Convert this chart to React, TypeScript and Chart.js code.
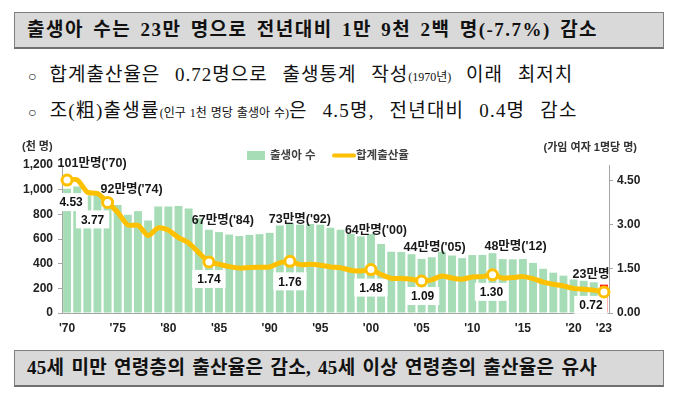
import React, { useEffect, useRef } from "react";
import { Chart, registerables } from "chart.js";

Chart.register(...registerables);

// ---------- data ----------
const years = [
  1970, 1971, 1972, 1973, 1974, 1975, 1976, 1977, 1978, 1979,
  1980, 1981, 1982, 1983, 1984, 1985, 1986, 1987, 1988, 1989,
  1990, 1991, 1992, 1993, 1994, 1995, 1996, 1997, 1998, 1999,
  2000, 2001, 2002, 2003, 2004, 2005, 2006, 2007, 2008, 2009,
  2010, 2011, 2012, 2013, 2014, 2015, 2016, 2017, 2018, 2019,
  2020, 2021, 2022, 2023,
];

// 출생아 수 (천 명)
const births = [
  1007, 1025, 953, 966, 922, 875, 797, 826, 751, 863,
  863, 867, 848, 769, 675, 656, 636, 624, 633, 639,
  650, 709, 731, 716, 721, 715, 691, 675, 642, 621,
  640, 560, 497, 495, 477, 439, 452, 497, 466, 445,
  470, 471, 485, 437, 435, 438, 406, 358, 327, 303,
  272, 261, 249, 230,
];

// 합계출산율 (가임 여자 1명당 명)
const tfr = [
  4.53, 4.54, 4.12, 4.07, 3.77, 3.43, 3.0, 2.99, 2.64, 2.9,
  2.82, 2.57, 2.39, 2.06, 1.74, 1.66, 1.58, 1.53, 1.55, 1.56,
  1.57, 1.71, 1.76, 1.65, 1.66, 1.63, 1.57, 1.54, 1.46, 1.43,
  1.48, 1.31, 1.18, 1.18, 1.15, 1.09, 1.13, 1.26, 1.19, 1.15,
  1.23, 1.24, 1.3, 1.19, 1.21, 1.24, 1.17, 1.05, 0.98, 0.92,
  0.84, 0.81, 0.78, 0.72,
];

const tickYears = [1970, 1975, 1980, 1985, 1990, 1995, 2000, 2005, 2010, 2015, 2020, 2023];
const leftTicks = [0, 200, 400, 600, 800, 1000, 1200];
const rightTicks = [0, 1.5, 3.0, 4.5];

const birthNoteYears = [1970, 1974, 1984, 1992, 2000, 2005, 2012, 2023];
const birthNoteTexts = [
  "101만명('70)", "92만명('74)", "67만명('84)", "73만명('92)",
  "64만명('00)", "44만명('05)", "48만명('12)", "23만명",
];

const tfrNoteYears = [1970, 1974, 1984, 1992, 2000, 2005, 2012, 2023];
const tfrNoteTexts = ["4.53", "3.77", "1.74", "1.76", "1.48", "1.09", "1.30", "0.72"];

const highlightYear = 2023;

// ---------- styles ----------
const GREEN = "#A6DDB6";
const YELLOW = "#FFC000";
const RED = "#FF1A1A";
const AXIS = "#A6A6A6";
const FONT = "'Liberation Sans', 'Noto Sans CJK KR', sans-serif";
const SERIF = "'Liberation Serif', 'Noto Sans CJK KR', serif";

// label offsets in px (style only)
const birthNoteOffsets: [number, number][] = [
  [25, -25], [24, -10], [14, -9], [10, -3], [5, -4], [13, -11], [23, -7], [-13, -10],
];
const tfrNoteOffsets: [number, number][] = [
  [4, 22], [-15, 17], [0, 17], [0, 20], [0, 18], [1, 15], [-1, 17], [-13, 13],
];

const xLabels = years.map((y) => (tickYears.includes(y) ? "'" + String(y).slice(2) : ""));

const notesPlugin = {
  id: "notes",
  afterDatasetDraw(chart: any, args: any) {
    if (args.index !== 0) return;
    const ctx = chart.ctx as CanvasRenderingContext2D;
    const barMeta = chart.getDatasetMeta(0);
    const lineMeta = chart.getDatasetMeta(1);
    ctx.save();
    // TFR value boxes
    ctx.font = `bold 12px ${FONT}`;
    ctx.textAlign = "center";
    ctx.textBaseline = "middle";
    tfrNoteYears.forEach((yr, i) => {
      const idx = years.indexOf(yr);
      const p = lineMeta.data[idx];
      const cx = p.x + tfrNoteOffsets[i][0];
      const cy = p.y + tfrNoteOffsets[i][1];
      const w = ctx.measureText(tfrNoteTexts[i]).width + 10;
      ctx.fillStyle = "#FFFFFF";
      ctx.fillRect(cx - w / 2, cy - 9, w, 18);
      ctx.fillStyle = "#111111";
      ctx.fillText(tfrNoteTexts[i], cx, cy + 1);
    });
    // birth labels
    ctx.font = `bold 12.5px ${FONT}`;
    birthNoteYears.forEach((yr, i) => {
      const idx = years.indexOf(yr);
      const b = barMeta.data[idx];
      const cx = b.x + birthNoteOffsets[i][0];
      const cy = b.y + birthNoteOffsets[i][1];
      ctx.fillStyle = "#1a1a1a";
      ctx.fillText(birthNoteTexts[i], cx, cy);
    });
    ctx.restore();
  },
  afterDraw(chart: any) {
    const ctx = chart.ctx as CanvasRenderingContext2D;
    ctx.save();
    ctx.textBaseline = "middle";
    ctx.fillStyle = "#333333";
    ctx.font = `bold 11px ${FONT}`;
    ctx.textAlign = "left";
    ctx.fillText("(천 명)", 22, 17);
    ctx.textAlign = "right";
    ctx.fillText("(가임 여자 1명당 명)", 637, 18);
    // legend
    ctx.fillStyle = GREEN;
    ctx.fillRect(247, 21, 18, 9);
    ctx.fillStyle = "#404040";
    ctx.font = `bold 11.5px ${FONT}`;
    ctx.textAlign = "left";
    ctx.fillText("출생아 수", 270, 25.5);
    ctx.strokeStyle = YELLOW;
    ctx.lineWidth = 4;
    ctx.lineCap = "round";
    ctx.beginPath();
    ctx.moveTo(334, 25.5);
    ctx.lineTo(354, 25.5);
    ctx.stroke();
    ctx.fillText("합계출산율", 356, 25.5);
    ctx.restore();
  },
};

export default function App() {
  const ref = useRef<HTMLCanvasElement>(null);

  useEffect(() => {
    if (!ref.current) return;
    const tickFont = { family: FONT, size: 12, weight: "bold" as const };
    const chart = new Chart(ref.current, {
      type: "bar",
      data: {
        labels: xLabels,
        datasets: [
          {
            type: "bar",
            label: "출생아 수",
            data: births,
            yAxisID: "y",
            backgroundColor: years.map((y) => (y === highlightYear ? RED : GREEN)),
            barPercentage: 0.78,
            categoryPercentage: 1.0,
            order: 2,
          },
          {
            type: "line",
            label: "합계출산율",
            data: tfr,
            yAxisID: "y2",
            borderColor: YELLOW,
            borderWidth: 5,
            tension: 0.25,
            borderJoinStyle: "round",
            borderCapStyle: "round",
            pointRadius: years.map((y) => (tfrNoteYears.includes(y) ? 5 : 0)),
            pointBackgroundColor: "#FFFFFF",
            pointBorderColor: YELLOW,
            pointBorderWidth: 3,
            order: 1,
          } as any,
        ],
      },
      options: {
        animation: false,
        responsive: false,
        devicePixelRatio: 1,
        layout: { padding: { top: 35, left: 0, right: 0, bottom: 0 } },
        plugins: { legend: { display: false }, tooltip: { enabled: false } },
        scales: {
          x: {
            grid: { display: false, drawTicks: false },
            border: { display: true, color: AXIS, width: 1 },
            ticks: {
              autoSkip: false,
              maxRotation: 0,
              minRotation: 0,
              padding: 8,
              font: tickFont,
              color: "#222222",
              callback: (_v: any, i: number) => xLabels[i],
            },
            afterFit: (s: any) => {
              s.height = 30;
            },
          },
          y: {
            position: "left",
            min: 0,
            max: 1200,
            afterBuildTicks: (s: any) => {
              s.ticks = leftTicks.map((v) => ({ value: v }));
            },
            ticks: {
              padding: 5,
              font: tickFont,
              color: "#222222",
              callback: (v: any) => Number(v).toLocaleString("en-US"),
            },
            grid: { drawOnChartArea: false, tickLength: 4, color: AXIS },
            border: { color: AXIS },
            afterFit: (s: any) => {
              s.width = 62;
            },
          },
          y2: {
            position: "right",
            min: 0,
            max: 5.045,
            afterBuildTicks: (s: any) => {
              s.ticks = rightTicks.map((v) => ({ value: v }));
            },
            ticks: {
              padding: 4,
              font: tickFont,
              color: "#222222",
              callback: (v: any) => Number(v).toFixed(2),
            },
            grid: { drawOnChartArea: false, tickLength: 4, color: AXIS },
            border: { color: AXIS },
            afterFit: (s: any) => {
              s.width = 79;
            },
          },
        },
      } as any,
      plugins: [notesPlugin],
    });
    return () => chart.destroy();
  }, []);

  const boxStyle: React.CSSProperties = {
    position: "absolute",
    left: 14,
    width: 650,
    height: 37,
    boxSizing: "border-box",
    background: "#D9D9D9",
    border: "1px solid #7F7F7F",
    borderBottom: "2px solid #6F6F6F",
    fontFamily: SERIF,
    fontWeight: "bold",
    fontSize: 19,
    lineHeight: "34px",
    paddingLeft: 12,
    color: "#111111",
    whiteSpace: "nowrap",
  };
  const lineStyle: React.CSSProperties = {
    position: "absolute",
    left: 28,
    height: 28,
    fontFamily: SERIF,
    fontSize: 19,
    lineHeight: "28px",
    color: "#111111",
    whiteSpace: "nowrap",
  };
  const small: React.CSSProperties = { fontSize: 12, letterSpacing: 0, wordSpacing: 1 };

  return (
    <div style={{ position: "absolute", left: 0, top: 0, width: 688, height: 394, background: "#FFFFFF" }}>
      <div style={{ ...boxStyle, top: 12, letterSpacing: 1.5, wordSpacing: 3 }}>
        출생아 수는 23만 명으로 전년대비 1만 9천 2백 명(-7.7%) 감소
      </div>
      <div style={{ ...lineStyle, top: 61, letterSpacing: 1, wordSpacing: 9 }}>
        <span style={{ fontSize: 14, marginRight: 12 }}>○</span>
        합계출산율은 0.72명으로 출생통계 작성<span style={small}>(1970년)</span> 이래 최저치
      </div>
      <div style={{ ...lineStyle, top: 97, letterSpacing: 1.2, wordSpacing: 9 }}>
        <span style={{ fontSize: 14, marginRight: 12 }}>○</span>
        조(粗)출생률<span style={small}>(인구 1천 명당 출생아 수)</span>은 4.5명, 전년대비 0.4명 감소
      </div>
      <canvas
        ref={ref}
        width={688}
        height={213}
        style={{ position: "absolute", left: 0, top: 130, width: 688, height: 213 }}
      />
      <div style={{ ...boxStyle, top: 350, letterSpacing: 0.3, wordSpacing: 2 }}>
        45세 미만 연령층의 출산율은 감소, 45세 이상 연령층의 출산율은 유사
      </div>
    </div>
  );
}
